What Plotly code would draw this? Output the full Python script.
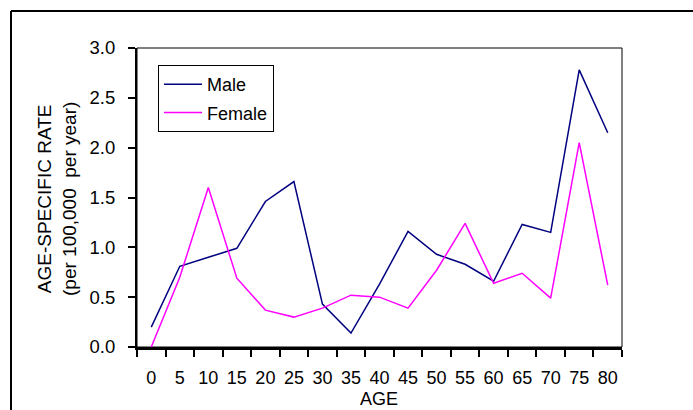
import plotly.graph_objects as go

ages = ["0", "5", "10", "15", "20", "25", "30", "35", "40",
        "45", "50", "55", "60", "65", "70", "75", "80"]
male = [0.20, 0.81, 0.90, 0.99, 1.46, 1.66, 0.43, 0.14, 0.63,
        1.16, 0.93, 0.83, 0.66, 1.23, 1.15, 2.78, 2.15]
female = [0.00, 0.70, 1.60, 0.69, 0.37, 0.30, 0.39, 0.52, 0.50,
          0.39, 0.77, 1.24, 0.64, 0.74, 0.49, 2.05, 0.62]

W, H = 693, 410
L, R, T, B = 137, 622, 48, 347   # plot area in pixels


def px(x):
    return (x - L) / (R - L)


def py(y):
    return (B - y) / (B - T)


font = "Liberation Sans, Arial, sans-serif"

fig = go.Figure()
fig.add_trace(go.Scatter(x=ages, y=male, mode="lines", name="Male",
                         legendgroup="m",
                         line=dict(color="#000080", width=1.5),
                         cliponaxis=False))
fig.add_trace(go.Scatter(x=ages, y=female, mode="lines", name="Female",
                         legendgroup="f",
                         line=dict(color="#FF00FF", width=1.5),
                         cliponaxis=False))

fig.update_layout(
    width=W, height=H,
    margin=dict(l=L, r=W - R, t=T, b=H - B, autoexpand=False),
    paper_bgcolor="white", plot_bgcolor="white",
    font=dict(family=font, size=18, color="black"),
    showlegend=True,
    legend=dict(x=px(158), y=py(65), xanchor="left", yanchor="top",
                bordercolor="black", borderwidth=1, bgcolor="white",
                tracegroupgap=2, itemwidth=38, font=dict(size=18)),
    xaxis=dict(type="category", range=[-0.5, 16.5], tickson="boundaries",
               ticks="outside", ticklen=7, tickcolor="black", tickwidth=1.5,
               showline=True, linecolor="black", linewidth=2.5,
               showgrid=False, zeroline=False, ticklabelstandoff=13,
               tickangle=0, tickfont=dict(size=18)),
    yaxis=dict(range=[0, 3], tickvals=[0, 0.5, 1, 1.5, 2, 2.5, 3],
               tickformat=".1f", ticks="outside", ticklen=7,
               tickcolor="black", tickwidth=1.5,
               showline=True, linecolor="black", linewidth=2,
               showgrid=False, zeroline=False, ticklabelstandoff=9,
               tickfont=dict(size=18.5)),
    shapes=[
        # thin plot-area box
        dict(type="rect", xref="paper", yref="paper", x0=0, y0=0, x1=1, y1=1,
             line=dict(color="black", width=1), layer="below"),
        # outer chart frame (top and left edges)
        dict(type="line", xref="paper", yref="paper",
             x0=px(11), y0=py(11), x1=px(W + 5), y1=py(11),
             line=dict(color="black", width=2)),
        dict(type="line", xref="paper", yref="paper",
             x0=px(11), y0=py(11), x1=px(11), y1=py(H + 5),
             line=dict(color="black", width=2)),
    ],
    annotations=[
        dict(text="AGE-SPECIFIC RATE<br>(per 100,000\u00a0 per year)",
             xref="paper", yref="paper", x=px(57), y=py(199),
             textangle=-90, showarrow=False, xanchor="center",
             yanchor="middle", font=dict(size=19)),
        dict(text="AGE", xref="paper", yref="paper", x=px(379), y=py(399),
             showarrow=False, xanchor="center", yanchor="middle",
             font=dict(size=18)),
    ],
)

# drop the browser's default body margin so the figure sits at (0, 0)
fig.write_html("out.html",
               config={"displayModeBar": False},
               post_script="document.body.style.margin='0';"
                           "document.body.style.overflow='hidden';")
